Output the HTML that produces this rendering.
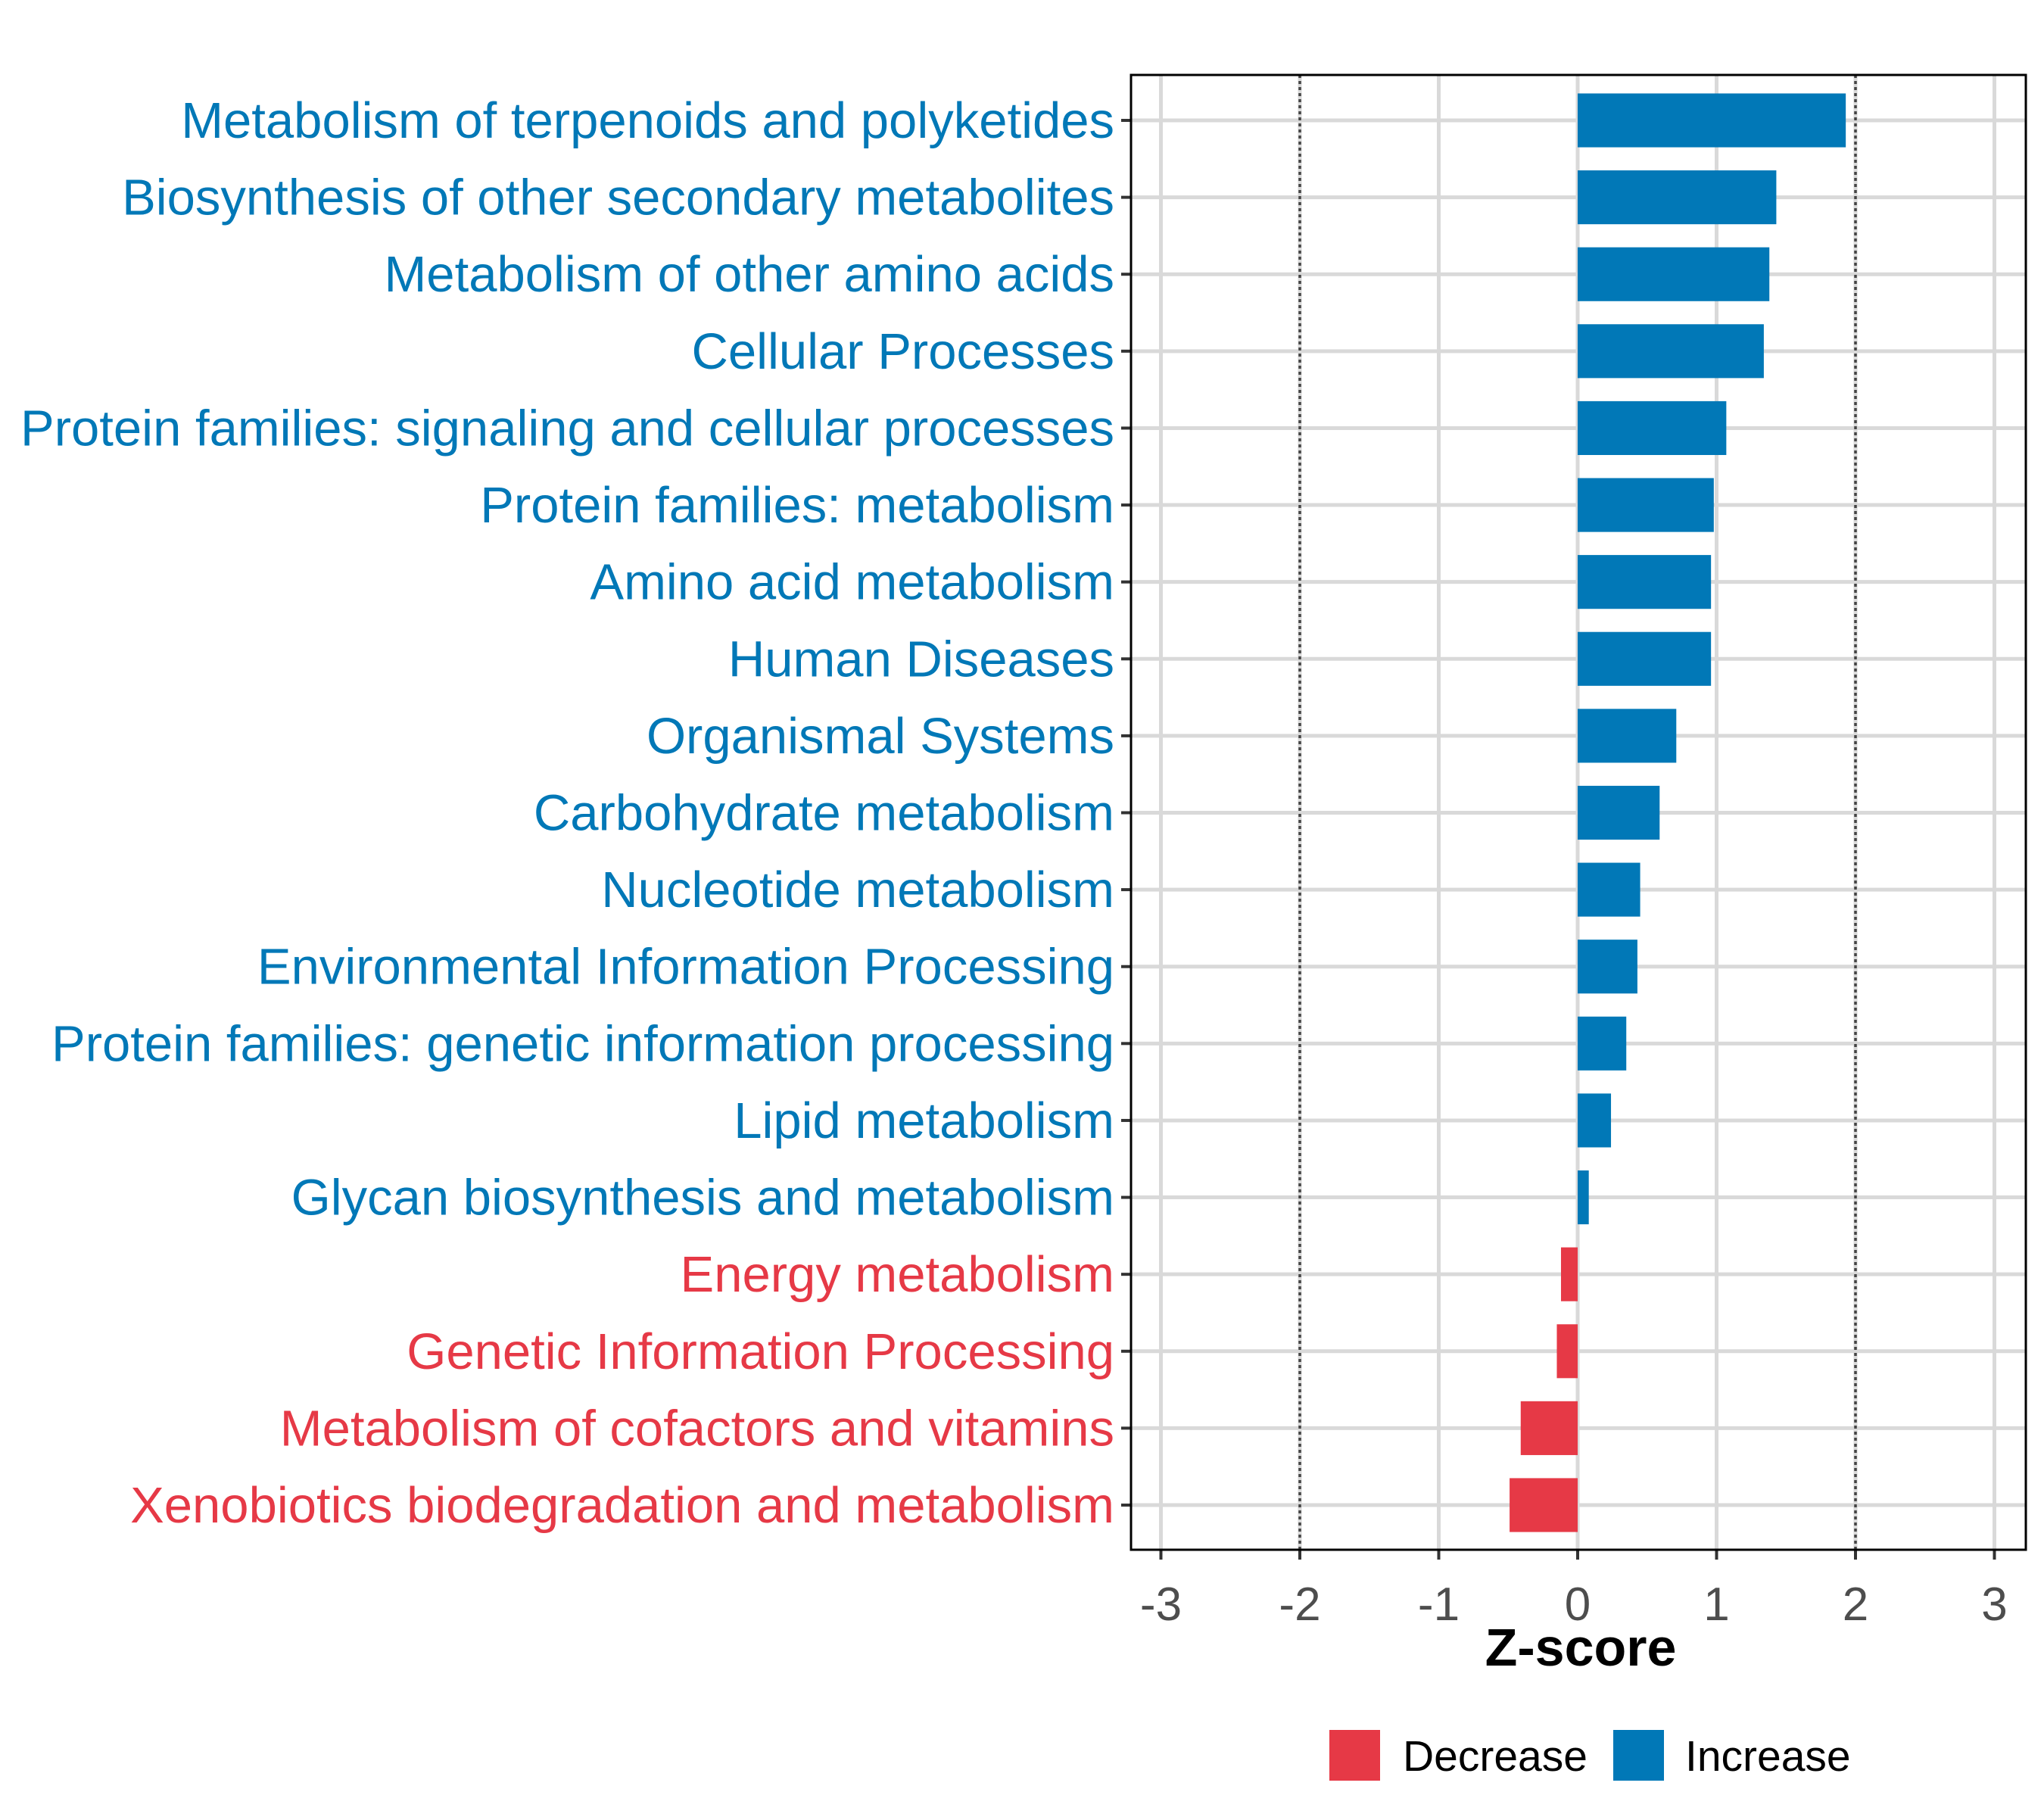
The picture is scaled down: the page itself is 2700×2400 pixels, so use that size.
<!DOCTYPE html>
<html><head><meta charset="utf-8"><style>
html,body{margin:0;padding:0;background:#fff;}
svg{display:block;font-family:"Liberation Sans",sans-serif;}
</style></head><body>
<svg id="chart" width="2700" height="2400" viewBox="0 0 2700 2400" xmlns="http://www.w3.org/2000/svg">
<rect width="2700" height="2400" fill="#fff"/>
<g id="grid"></g>
<g id="bars"></g>
<g id="ylabels"></g>
<g id="xaxis"></g>
<rect x="1494" y="99" width="1182" height="1948" fill="none" stroke="#000" stroke-width="3"/>
<text x="2088" y="2200" font-size="70" font-weight="bold" text-anchor="middle" fill="#000">Z-score</text>
<g>
<rect x="1756" y="2285" width="67" height="67" fill="#E63946"/>
<text x="1853" y="2339" font-size="57" fill="#000">Decrease</text>
<rect x="2131" y="2285" width="67" height="67" fill="#0178B7"/>
<text x="2226" y="2339" font-size="57" fill="#000">Increase</text>
</g>
</svg>
<script>
const categories = ["Metabolism of terpenoids and polyketides","Biosynthesis of other secondary metabolites","Metabolism of other amino acids","Cellular Processes","Protein families: signaling and cellular processes","Protein families: metabolism","Amino acid metabolism","Human Diseases","Organismal Systems","Carbohydrate metabolism","Nucleotide metabolism","Environmental Information Processing","Protein families: genetic information processing","Lipid metabolism","Glycan biosynthesis and metabolism","Energy metabolism","Genetic Information Processing","Metabolism of cofactors and vitamins","Xenobiotics biodegradation and metabolism"];
const zscores = [1.93,1.43,1.38,1.34,1.07,0.98,0.96,0.96,0.71,0.59,0.45,0.43,0.35,0.24,0.08,-0.12,-0.15,-0.41,-0.49];
const xTicks = [-3,-2,-1,0,1,2,3];
const xTickLabels = ["-3","-2","-1","0","1","2","3"];
const thresholds = [-2,2];

const NS="http://www.w3.org/2000/svg";
const PL=1494,PR=2676,PT=99,PB=2047;
const x0=2084, unit=183.5;
function xs(v){return x0+v*unit;}
const firstY=159, step=(1988-159)/(categories.length-1);
function ys(i){return firstY+i*step;}
function mk(tag,attrs,parent){const e=document.createElementNS(NS,tag);for(const k in attrs)e.setAttribute(k,attrs[k]);parent.appendChild(e);return e;}
const grid=document.getElementById('grid'),bars=document.getElementById('bars'),yl=document.getElementById('ylabels'),xa=document.getElementById('xaxis');
xTicks.forEach((t,i)=>{
  const l=mk('line',{x1:xs(t),x2:xs(t),y1:PT,y2:PB,stroke:'#d9d9d9','stroke-width':5},grid);
  
  
  const tk=mk('line',{x1:xs(t),x2:xs(t),y1:PB,y2:PB+13,stroke:'#333','stroke-width':4},xa);
  
  
  const tx=mk('text',{x:xs(t),y:2140,'font-size':62,'text-anchor':'middle',fill:'#4d4d4d'},xa);
  tx.textContent=xTickLabels[i];
  
  
});
categories.forEach((c,i)=>{
  const y=ys(i);
  const g=mk('line',{x1:PL,x2:PR,y1:y,y2:y,stroke:'#d9d9d9','stroke-width':5},grid);
  
  
});
thresholds.forEach(t=>{
  const d=mk('line',{x1:xs(t),x2:xs(t),y1:PT,y2:PB,stroke:'#444','stroke-width':3.5,'stroke-dasharray':'4,4'},grid);
  
  
});
categories.forEach((c,i)=>{
  const v=zscores[i], y=ys(i), h=step*0.7;
  const col=v>=0?'#0178B7':'#E63946';
  const b=mk('rect',{x:Math.min(xs(0),xs(v)),y:y-h/2,width:Math.abs(xs(v)-xs(0)),height:h,fill:col},bars);
  
  
  const tk=mk('line',{x1:PL-13,x2:PL,y1:y,y2:y,stroke:'#333','stroke-width':4},yl);
  
  
  const t=mk('text',{x:1472,y:y+23,'font-size':67,'text-anchor':'end',fill:col},yl);
  t.textContent=c;
  
  
});
</script>
</body></html>
